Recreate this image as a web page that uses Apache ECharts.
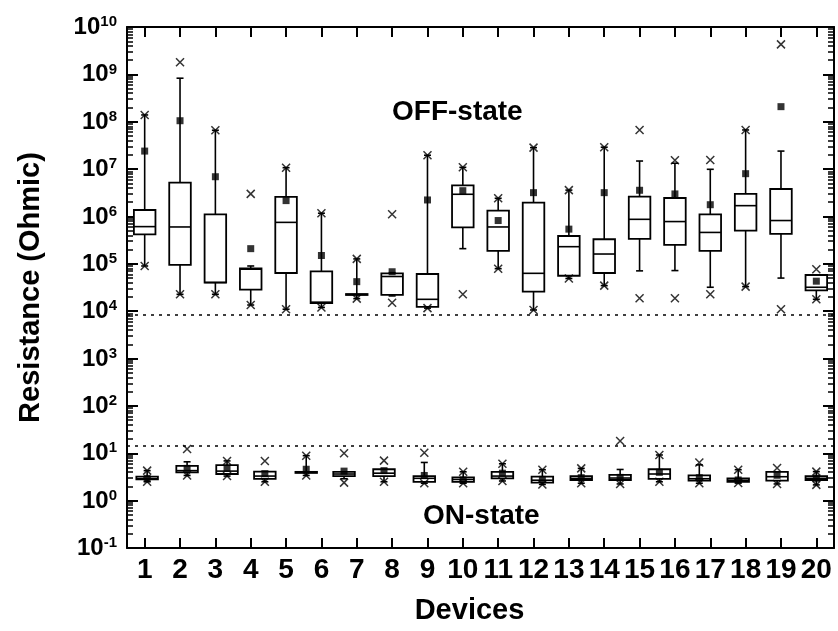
<!DOCTYPE html>
<html><head><meta charset="utf-8">
<script src="https://cdn.jsdelivr.net/npm/echarts@6/dist/echarts.min.js"></script>
<style>html,body{margin:0;padding:0;background:#fff}#c{width:838px;height:631px}</style>
</head><body><div id="c"></div>
<script>
// ---------------- data ----------------
const devices = ['1','2','3','4','5','6','7','8','9','10','11','12','13','14','15','16','17','18','19','20'];

// OFF-state statistics per device
const offMin  = [9e4, 2.27e4, 2.27e4, 1.35e4, 1.1e4, 1.2e4, 1.84e4, 1.5e4, 1.16e4, 2.27e4, 7.9e4, 1.06e4, 4.9e4, 3.46e4, 1.87e4, 1.87e4, 2.27e4, 3.3e4, 1.1e4, 1.78e4];
const offLow  = [9e4, 2.27e4, 2.27e4, 1.35e4, 1.1e4, 1.2e4, 1.84e4, 2.1e4, 1.16e4, 2.09e5, 7.9e4, 1.06e4, 4.9e4, 3.46e4, 7.1e4, 7.2e4, 3.2e4, 3.3e4, 5.0e4, 1.78e4];
const offQ1   = [4.2e5, 9.5e4, 4.0e4, 2.85e4, 6.4e4, 1.49e4, 2.2e4, 2.2e4, 1.23e4, 5.9e5, 1.87e5, 2.58e4, 5.6e4, 6.4e4, 3.35e5, 2.5e5, 1.87e5, 5.0e5, 4.27e5, 2.76e4];
const offMed  = [6.1e5, 6.0e5, 4.05e4, 7.7e4, 7.5e5, 1.55e4, 2.25e4, 5.4e4, 1.78e4, 2.94e6, 6.0e5, 6.3e4, 2.3e5, 1.61e5, 8.7e5, 7.8e5, 4.6e5, 1.69e6, 8.2e5, 3.2e4];
const offQ3   = [1.37e6, 5.2e6, 1.11e6, 8.0e4, 2.58e6, 6.9e4, 2.3e4, 6.3e4, 6.1e4, 4.55e6, 1.33e6, 1.95e6, 3.87e5, 3.3e5, 2.62e6, 2.45e6, 1.11e6, 2.99e6, 3.8e6, 5.8e4];
const offHigh = [1.39e8, 8.3e8, 6.6e7, 9.0e4, 1.07e7, 1.17e6, 1.27e5, 6.5e4, 1.96e7, 1.09e7, 2.42e6, 2.84e7, 3.6e6, 2.9e7, 1.48e7, 1.33e7, 9.9e6, 6.7e7, 2.4e7, 5.8e4];
const offMax  = [1.39e8, 1.8e9, 6.6e7, 3.0e6, 1.07e7, 1.17e6, 1.27e5, 1.11e6, 1.96e7, 1.09e7, 2.42e6, 2.84e7, 3.6e6, 2.9e7, 6.7e7, 1.53e7, 1.56e7, 6.7e7, 4.3e9, 7.7e4];
const offMean = [2.4e7, 1.05e8, 6.9e6, 2.09e5, 2.16e6, 1.5e5, 4.2e4, 6.8e4, 2.23e6, 3.5e6, 8.2e5, 3.18e6, 5.4e5, 3.18e6, 3.57e6, 2.99e6, 1.77e6, 8.0e6, 2.08e8, 4.3e4];

// ON-state statistics (18 boxes, drawn at their own x positions)
const onPos  = [1.07, 2.2, 3.33, 4.4, 5.57, 6.64, 7.77, 8.91, 10.01, 11.12, 12.25, 13.35, 14.45, 15.56, 16.69, 17.79, 18.89, 20.0];
const onMin  = [2.5, 3.4, 3.3, 2.5, 3.4, 2.4, 2.5, 2.33, 2.33, 2.6, 2.2, 2.33, 2.25, 2.5, 2.33, 2.35, 2.25, 2.15];
const onLow  = [2.5, 3.4, 3.3, 2.5, 3.4, 2.9, 2.5, 2.33, 2.33, 2.6, 2.2, 2.33, 2.25, 2.5, 2.33, 2.35, 2.25, 2.15];
const onQ1   = [2.8, 3.96, 3.65, 2.87, 3.85, 3.3, 3.3, 2.5, 2.5, 2.96, 2.4, 2.73, 2.73, 2.87, 2.65, 2.5, 2.65, 2.73];
const onMed  = [2.9, 4.3, 4.2, 3.3, 3.95, 3.65, 3.8, 2.96, 2.8, 3.3, 2.7, 2.95, 3.0, 3.65, 2.9, 2.7, 3.2, 2.96];
const onQ3   = [3.2, 5.4, 5.6, 4.1, 4.05, 4.06, 4.6, 3.3, 3.1, 4.06, 3.2, 3.3, 3.5, 4.6, 3.43, 2.96, 4.06, 3.3];
const onHigh = [4.3, 6.6, 6.9, 4.1, 8.9, 4.06, 4.6, 6.4, 4.06, 6.0, 4.5, 4.8, 4.55, 9.2, 5.7, 4.5, 4.06, 4.1];
const onMax  = [4.3, 12.3, 6.9, 6.9, 8.9, 10, 7.0, 10.3, 4.06, 6.0, 4.5, 4.8, 18.2, 9.2, 6.4, 4.5, 4.9, 4.1];
const onMean = [2.95, 4.8, 4.8, 3.7, 4.6, 4.2, 4.3, 3.4, 2.73, 3.8, 2.82, 3.05, 3.1, 3.96, 3.05, 2.73, 3.43, 2.96];

// threshold (dotted) lines
const thresholds = [8600, 14.5];

// ---------------- chart ----------------
const FONT = '"Liberation Sans", Arial, sans-serif';
const chart = echarts.init(document.getElementById('c'), null, {renderer: 'canvas'});

const offX = devices.map((d, i) => i + 1);
const offBoxes = offX.map((x, i) => [x, offLow[i], offQ1[i], offMed[i], offQ3[i], offHigh[i]]);
const onBoxes = onPos.map((x, i) => [x, onLow[i], onQ1[i], onMed[i], onQ3[i], onHigh[i]]);
const meanPts = offX.map((x, i) => [x, offMean[i]]).concat(onPos.map((x, i) => [x, onMean[i]]));
const extPts = offX.map((x, i) => [x, offMin[i]])
  .concat(offX.map((x, i) => [x, offMax[i]]))
  .concat(onPos.map((x, i) => [x, onMin[i]]))
  .concat(onPos.map((x, i) => [x, onMax[i]]));

function renderBox(params, api) {
  const x = api.value(0);
  const lo = api.value(1), q1 = api.value(2), md = api.value(3), q3 = api.value(4), hi = api.value(5);
  const pMd = api.coord([x, md]);
  const cx = pMd[0];
  const half = api.coord([x + 0.305, md])[0] - cx;
  const yLo = api.coord([x, lo])[1], yQ1 = api.coord([x, q1])[1];
  const yQ3 = api.coord([x, q3])[1], yHi = api.coord([x, hi])[1];
  const ws = {stroke: '#000', lineWidth: 1.6, fill: null};
  const cap = 3.5;
  const ch = [];
  ch.push({type: 'line', shape: {x1: cx, y1: yQ3, x2: cx, y2: yHi}, style: ws});
  ch.push({type: 'line', shape: {x1: cx - cap, y1: yHi, x2: cx + cap, y2: yHi}, style: ws});
  ch.push({type: 'line', shape: {x1: cx, y1: yQ1, x2: cx, y2: yLo}, style: ws});
  ch.push({type: 'line', shape: {x1: cx - cap, y1: yLo, x2: cx + cap, y2: yLo}, style: ws});
  ch.push({type: 'rect', shape: {x: cx - half, y: yQ3, width: 2 * half, height: Math.max(yQ1 - yQ3, 0.5)},
           style: {fill: '#fff', stroke: '#000', lineWidth: 1.8}});
  ch.push({type: 'line', shape: {x1: cx - half, y1: pMd[1], x2: cx + half, y2: pMd[1]}, style: {stroke: '#000', lineWidth: 1.6}});
  return {type: 'group', children: ch};
}

const axisLineStyle = {color: '#000', width: 2};
const labelFmt = v => {
  const e = Math.round(Math.log(v) / Math.LN10);
  return '{b|10}{s|' + e + '}';
};

const option = {
  animation: false,
  backgroundColor: '#fff',
  grid: {left: 127, right: 4, top: 27, bottom: 83, containLabel: false, outerBoundsMode: 'none'},
  xAxis: [
    {
      type: 'category', data: devices, position: 'bottom', boundaryGap: true,
      axisLine: {show: true, lineStyle: axisLineStyle},
      axisTick: {show: true, inside: true, alignWithLabel: true, length: 10, lineStyle: {color: '#000', width: 2}},
      axisLabel: {interval: 0, margin: 8, color: '#000', fontFamily: FONT, fontWeight: 'bold', fontSize: 28},
      splitLine: {show: false},
      name: 'Devices', nameLocation: 'middle', nameGap: 48,
      nameTextStyle: {color: '#000', fontFamily: FONT, fontWeight: 'bold', fontSize: 29, padding: [0, 22, 0, 0]}
    },
    {
      type: 'category', data: devices, position: 'top', boundaryGap: true,
      axisLine: {show: true, lineStyle: axisLineStyle},
      axisTick: {show: true, inside: true, alignWithLabel: true, length: 10, lineStyle: {color: '#000', width: 2}},
      axisLabel: {show: false}, splitLine: {show: false}
    },
    {
      type: 'value', min: 0.5, max: 20.5, show: false
    }
  ],
  yAxis: [
    {
      type: 'log', logBase: 10, min: 0.1, max: 1e10, interval: 1, position: 'left',
      axisLine: {show: true, lineStyle: axisLineStyle},
      axisTick: {show: true, inside: true, length: 11, lineStyle: {color: '#000', width: 2}},
      minorTick: {show: true, splitNumber: 9, length: 6, lineStyle: {color: '#000', width: 1.5}},
      splitLine: {show: false},
      axisLabel: {
        margin: 10, color: '#000', formatter: labelFmt, showMinLabel: true, showMaxLabel: true,
        rich: {
          b: {fontFamily: FONT, fontWeight: 'bold', fontSize: 24, color: '#000', verticalAlign: 'bottom'},
          s: {fontFamily: FONT, fontWeight: 'bold', fontSize: 15, color: '#000', verticalAlign: 'top', padding: [0, 0, 10, 0]}
        }
      },
      name: 'Resistance (Ohmic)', nameLocation: 'middle', nameGap: 82, nameRotate: 90,
      nameTextStyle: {color: '#000', fontFamily: FONT, fontWeight: 'bold', fontSize: 29}
    },
    {
      type: 'log', logBase: 10, min: 0.1, max: 1e10, interval: 1, position: 'right',
      axisLine: {show: true, lineStyle: axisLineStyle},
      axisTick: {show: true, inside: true, length: 11, lineStyle: {color: '#000', width: 2}},
      minorTick: {show: true, splitNumber: 9, length: 6, lineStyle: {color: '#000', width: 1.5}},
      splitLine: {show: false},
      axisLabel: {show: false}
    }
  ],
  series: [
    {
      type: 'custom', name: 'OFF', xAxisIndex: 2, yAxisIndex: 0, renderItem: renderBox,
      encode: {x: 0, y: [1, 2, 3, 4, 5]}, data: offBoxes, z: 2,
      markLine: {
        silent: true, symbol: ['none', 'none'], label: {show: false},
        lineStyle: {color: '#000', width: 1.5, type: [3, 5]},
        data: thresholds.map(v => ({yAxis: v}))
      }
    },
    {
      type: 'custom', name: 'ON', xAxisIndex: 2, yAxisIndex: 0, renderItem: renderBox,
      encode: {x: 0, y: [1, 2, 3, 4, 5]}, data: onBoxes, z: 2
    },
    {
      type: 'scatter', name: 'mean', xAxisIndex: 2, yAxisIndex: 0, data: meanPts,
      symbol: 'rect', symbolSize: 7, itemStyle: {color: '#000'}, z: 3
    },
    {
      type: 'scatter', name: 'minmax', xAxisIndex: 2, yAxisIndex: 0, data: extPts,
      symbol: 'path://M0,0L10,10M10,0L0,10', symbolSize: 8,
      itemStyle: {color: 'transparent', borderColor: '#000', borderWidth: 1.5}, z: 4
    }
  ],
  graphic: [
    {type: 'text', left: 392, top: 98, style: {text: 'OFF-state', fill: '#000', font: 'bold 28px ' + FONT}},
    {type: 'text', left: 423, top: 502, style: {text: 'ON-state', fill: '#000', font: 'bold 28px ' + FONT}}
  ]
};
chart.setOption(option);
</script>
</body></html>
